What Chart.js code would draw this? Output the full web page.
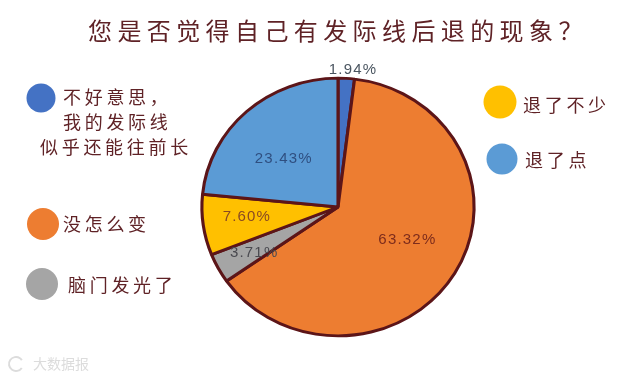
<!DOCTYPE html>
<html>
<head>
<meta charset="utf-8">
<script src="https://cdn.jsdelivr.net/npm/chart.js@4"></script>
<style>html,body{margin:0;padding:0;background:#fff}canvas{display:block}</style>
</head>
<body>
<canvas id="c" width="640" height="377"></canvas>
<script>
const titleText = '您是否觉得自己有发际线后退的现象？';
const categories = [['不好意思，','我的发际线','似乎还能往前长'],'没怎么变','脑门发光了','退了不少','退了点'];
const values = [1.94, 63.32, 3.71, 7.60, 23.43];
const valueLabels = ['1.94%','63.32%','3.71%','7.60%','23.43%'];
const colors = ['#4472c4','#ed7d31','#a5a5a5','#ffc000','#5b9bd5'];
const labelColors = ['#4a5560','#7d2c1c','#4a4a50','#8a4a22','#2f4f80'];
const labelOffsets = [[11,-72],[13,-1],[-26,15],[-26,1],[-10,1]];
const legendSpots = [
  {cx:41,cy:98,r:14.5,lines:[[63,97],[63,122],[40,147]]},
  {cx:43,cy:224,r:16,lines:[[63,224]]},
  {cx:42,cy:284,r:16,lines:[[68,285]]},
  {cx:500,cy:102,r:16.5,lines:[[523,105]]},
  {cx:502,cy:159,r:15.5,lines:[[525,160]]}
];
const ink = '#5f2226';
const cjk = '"Noto Sans CJK SC","Noto Sans",sans-serif';
const squash = {x:1.035, y:0.98};

const stretchPie = {
  id:'stretchPie',
  beforeDatasetsDraw(chart){
    const a = chart.getDatasetMeta(0).data[0], c = chart.ctx;
    c.save();
    c.translate(a.x,a.y); c.scale(squash.x,squash.y); c.translate(-a.x,-a.y);
  },
  afterDatasetsDraw(chart){ chart.ctx.restore(); }
};

const decorations = {
  id:'decorations',
  afterDraw(chart){
    const c = chart.ctx;
    c.save();
    c.textBaseline = 'middle';
    c.fillStyle = ink;
    c.textAlign = 'left';
    c.font = '24px ' + cjk;
    c.letterSpacing = '5.4px';
    c.fillText(titleText, 88, 31);
    legendSpots.forEach((s,i)=>{
      c.beginPath(); c.arc(s.cx,s.cy,s.r,0,Math.PI*2); c.fillStyle = colors[i]; c.fill();
      const lines = [].concat(categories[i]);
      c.fillStyle = ink;
      c.font = '18px ' + cjk;
      c.letterSpacing = '3.7px';
      lines.forEach((t,j)=> c.fillText(t, s.lines[j][0], s.lines[j][1]));
    });
    c.textAlign = 'center';
    c.font = '15px "Liberation Sans",sans-serif';
    c.letterSpacing = '1.2px';
    chart.getDatasetMeta(0).data.forEach((arc,i)=>{
      const p = arc.tooltipPosition();
      c.fillStyle = labelColors[i];
      c.fillText(valueLabels[i], p.x + labelOffsets[i][0], p.y + labelOffsets[i][1]);
    });
    c.textAlign = 'left';
    c.fillStyle = '#dcdcdc';
    c.strokeStyle = '#dcdcdc';
    c.lineWidth = 2;
    c.beginPath(); c.arc(16,364,7,0.6,5.7); c.stroke();
    c.font = '14px ' + cjk;
    c.letterSpacing = '0px';
    c.fillText('大数据报', 33, 364);
    c.restore();
  }
};

new Chart(document.getElementById('c'), {
  type:'pie',
  data:{
    labels:categories,
    datasets:[{data:values, backgroundColor:colors, borderColor:'#5c1518', borderWidth:3, hoverOffset:0}]
  },
  options:{
    responsive:false,
    animation:false,
    rotation:0,
    layout:{padding:{left:205,right:169,top:74,bottom:37}},
    plugins:{legend:{display:false},tooltip:{enabled:false}}
  },
  plugins:[stretchPie,decorations]
});
</script>
</body>
</html>
